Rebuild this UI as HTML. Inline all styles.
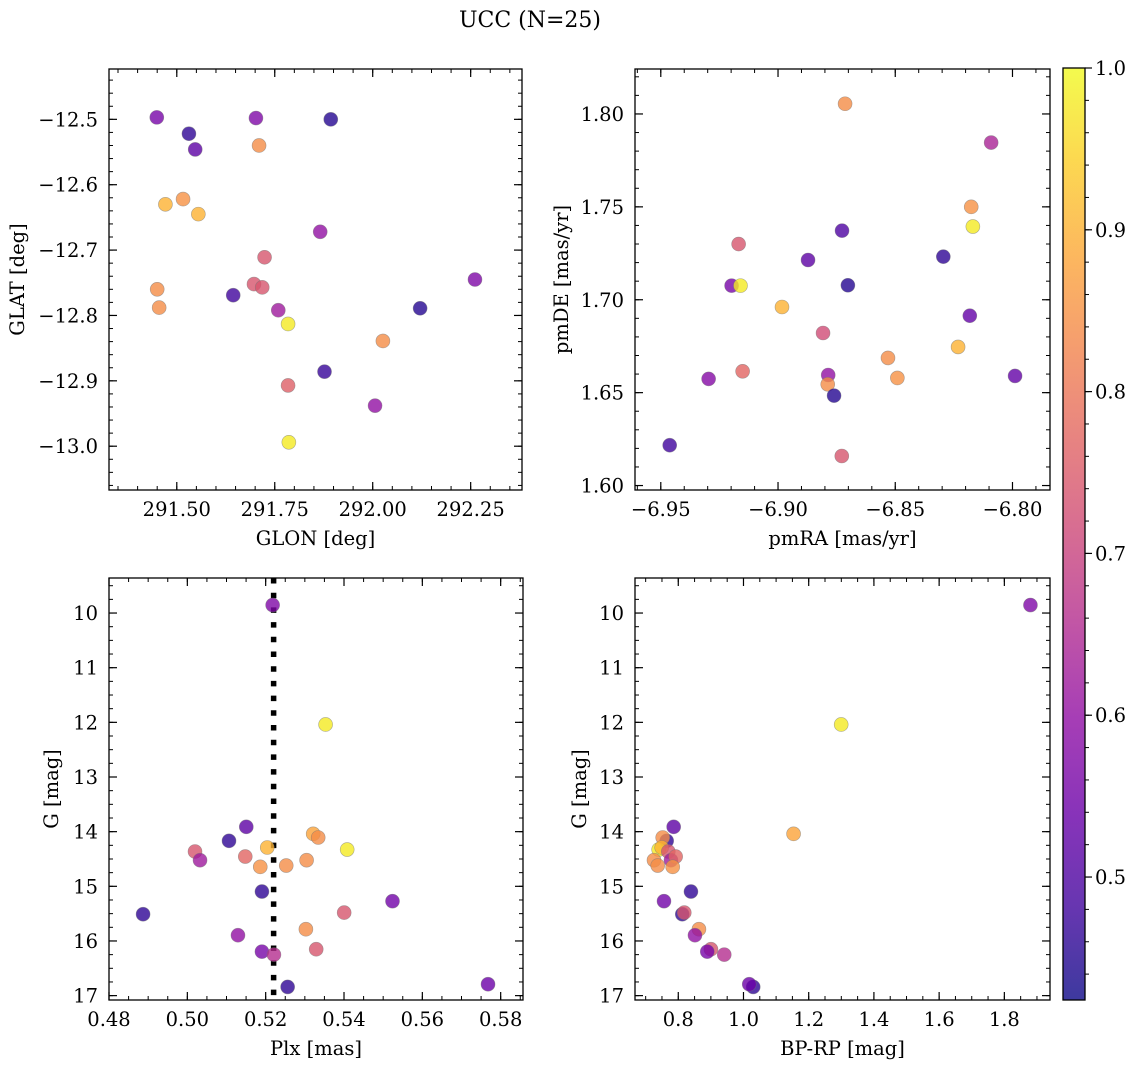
<!DOCTYPE html>
<html><head><meta charset="utf-8"><style>
html,body{margin:0;padding:0;background:#fff}
svg{display:block;font-family:"DejaVu Serif","Liberation Serif",serif}
</style></head><body>
<svg id="fig" width="1136" height="1068" viewBox="0 0 1136 1068" xmlns="http://www.w3.org/2000/svg">
<text x="530" y="27" font-size="22" text-anchor="middle">UCC (N=25)</text>
</svg>
<script>
// ---- data ----
const glon=[291.449,291.531,291.547,291.702,291.893,291.710,291.471,291.516,291.555,291.866,291.724,291.697,291.718,291.450,291.455,291.644,291.759,291.784,292.261,292.121,292.026,291.877,291.784,292.006,291.786];
const glat=[-12.497,-12.522,-12.546,-12.498,-12.5,-12.540,-12.630,-12.622,-12.645,-12.672,-12.711,-12.752,-12.757,-12.760,-12.788,-12.769,-12.792,-12.813,-12.745,-12.789,-12.839,-12.886,-12.907,-12.938,-12.994];
const glColor=[0.56,0.46,0.52,0.57,0.45,0.84,0.9,0.85,0.9,0.6,0.74,0.74,0.74,0.84,0.84,0.48,0.62,0.98,0.57,0.45,0.84,0.47,0.76,0.6,0.98];

const pmra=[-6.8714,-6.8091,-6.8176,-6.8169,-6.8727,-6.9168,-6.8872,-6.8295,-6.9198,-6.9160,-6.8702,-6.8983,-6.8182,-6.8808,-6.8232,-6.8531,-6.9151,-6.9296,-6.8786,-6.8491,-6.7989,-6.8788,-6.8761,-6.9462,-6.8728];
const pmde=[1.8055,1.7846,1.7500,1.7394,1.7372,1.7300,1.7214,1.7232,1.7076,1.7076,1.7078,1.6961,1.6914,1.6821,1.6746,1.6687,1.6615,1.6574,1.6595,1.6579,1.6590,1.6545,1.6484,1.6217,1.6159];
const pmColor=[0.84,0.64,0.85,0.98,0.5,0.74,0.52,0.46,0.56,0.98,0.45,0.9,0.53,0.72,0.9,0.84,0.77,0.58,0.6,0.85,0.53,0.84,0.45,0.48,0.74];

const plx=[0.52178,0.53530,0.51505,0.51064,0.53213,0.53341,0.54081,0.52040,0.50196,0.50324,0.51479,0.51862,0.52525,0.53045,0.51905,0.55238,0.48870,0.54004,0.53027,0.51293,0.53290,0.51905,0.52211,0.52561,0.57677];
const gmag=[9.854,12.039,13.912,14.168,14.040,14.107,14.327,14.290,14.363,14.522,14.455,14.644,14.620,14.522,15.096,15.272,15.510,15.481,15.785,15.895,16.151,16.195,16.250,16.841,16.791];
const plxColor=[0.57,0.98,0.52,0.46,0.88,0.84,0.98,0.9,0.74,0.62,0.77,0.85,0.84,0.84,0.46,0.55,0.46,0.74,0.84,0.6,0.74,0.56,0.66,0.46,0.54];
const plxMedian=[0.52203];

const bprp=[1.880,1.2996,1.1536,0.7859,0.7644,0.7522,0.7399,0.7491,0.7694,0.7776,0.7920,0.7255,0.7369,0.7829,0.8389,0.7562,0.8123,0.8184,0.8634,0.8512,0.9002,0.8889,0.9410,1.0298,1.0176];
const cmdG=[9.854,12.039,14.040,13.912,14.168,14.107,14.327,14.290,14.363,14.522,14.455,14.522,14.620,14.644,15.096,15.272,15.510,15.481,15.785,15.895,16.151,16.195,16.250,16.841,16.791];
const cmdColor=[0.57,0.98,0.88,0.52,0.46,0.84,0.98,0.9,0.74,0.62,0.77,0.84,0.84,0.85,0.46,0.55,0.46,0.74,0.84,0.6,0.74,0.56,0.66,0.46,0.54];

const cbTicks=[0.5,0.6,0.7,0.8,0.9,1.0];
const cbTickLabels=["0.5","0.6","0.7","0.8","0.9","1.0"];

// ---- helpers ----
const NS="http://www.w3.org/2000/svg";
const svg=document.getElementById('fig');
const FS=19.5;
const VMIN=0.424,VMAX=1.0;
const stops=[[13,8,135],[65,4,157],[106,0,168],[143,13,164],[177,42,144],[204,71,120],[225,100,98],[242,132,75],[252,166,54],[252,206,37],[240,249,33]];
function plasma(t){t=Math.max(0,Math.min(1,t));const f=t*10,i=Math.min(9,Math.floor(f)),u=f-i;const a=stops[i],b=stops[i+1];return 'rgb('+a.map((v,k)=>Math.round(v+(b[k]-v)*u)).join(',')+')';}
function cval(v){return plasma((v-VMIN)/(VMAX-VMIN));}
function mk(tag,attrs,parent){const e=document.createElementNS(NS,tag);for(const k in attrs)e.setAttribute(k,attrs[k]);(parent||svg).appendChild(e);return e;}
function fmt(v,d){const s=Math.abs(v).toFixed(d);return (v<-1e-9?'\u2212':'')+s;}

function panel(o){
  const g=mk('g',{});
  
  
  const sx=v=>o.px0+(v-o.x0)/(o.x1-o.x0)*(o.px1-o.px0);
  const sy=v=>o.py0+(v-o.y0)/(o.y1-o.y0)*(o.py1-o.py0);
  const eps=1e-9;
  function ticks(a0,a1,step){const lo=Math.min(a0,a1),hi=Math.max(a0,a1);const r=[];for(let k=Math.ceil(lo/step-eps);k*step<=hi+eps;k++)r.push(+(k*step).toFixed(6));return r;}
  ticks(o.x0,o.x1,o.xminor).forEach(v=>{const x=sx(v);
    const t1=mk('line',{x1:x,x2:x,y1:o.py1,y2:o.py1-4,stroke:'#000','stroke-width':1},g);
    
    const t2=mk('line',{x1:x,x2:x,y1:o.py0,y2:o.py0+4,stroke:'#000','stroke-width':1},g);
    });
  ticks(o.y0,o.y1,o.yminor).forEach(v=>{const y=sy(v);
    const t1=mk('line',{x1:o.px0,x2:o.px0+4,y1:y,y2:y,stroke:'#000','stroke-width':1},g);
    
    const t2=mk('line',{x1:o.px1,x2:o.px1-4,y1:y,y2:y,stroke:'#000','stroke-width':1},g);
    });
  ticks(o.x0,o.x1,o.xmajor).forEach(v=>{const x=sx(v);
    const t1=mk('line',{x1:x,x2:x,y1:o.py1,y2:o.py1-8,stroke:'#000','stroke-width':1.2},g);
    
    const t2=mk('line',{x1:x,x2:x,y1:o.py0,y2:o.py0+8,stroke:'#000','stroke-width':1.2},g);
    
    const tl=mk('text',{x:x,y:o.py1+26,'font-size':FS,'text-anchor':'middle'},g);tl.textContent=fmt(v,o.xd);
    });
  ticks(o.y0,o.y1,o.ymajor).forEach(v=>{const y=sy(v);
    const t1=mk('line',{x1:o.px0,x2:o.px0+8,y1:y,y2:y,stroke:'#000','stroke-width':1.2},g);
    
    const t2=mk('line',{x1:o.px1,x2:o.px1-8,y1:y,y2:y,stroke:'#000','stroke-width':1.2},g);
    
    const tl=mk('text',{x:o.px0-11,y:y+7,'font-size':FS,'text-anchor':'end'},g);tl.textContent=fmt(v,o.yd);
    });
  if(o.vline){o.vline.forEach(v=>{const x=sx(v);
    const l=mk('line',{x1:x,x2:x,y1:o.py0,y2:o.py1,stroke:'#000','stroke-width':5.5,'stroke-dasharray':'5.5,9.2'},g);
    });}
  for(let i=0;i<o.xs.length;i++){
    const c=mk('circle',{cx:sx(o.xs[i]),cy:sy(o.ys[i]),r:7,fill:cval(o.cs[i]),'fill-opacity':0.8,stroke:'#777','stroke-opacity':0.6,'stroke-width':0.6},g);
    
    
  }
  const fr=mk('rect',{x:o.px0,y:o.py0,width:o.px1-o.px0,height:o.py1-o.py0,fill:'none',stroke:'#000','stroke-width':1.3},g);
  
  const xl=mk('text',{x:(o.px0+o.px1)/2,y:o.py1+55,'font-size':FS,'text-anchor':'middle'},g);xl.textContent=o.xlabel;
  
  const yl=mk('text',{x:o.ylx,y:(o.py0+o.py1)/2,'font-size':FS,'text-anchor':'middle',transform:'rotate(-90 '+o.ylx+' '+(o.py0+o.py1)/2+')'},g);yl.textContent=o.ylabel;
  
}

panel({name:'glon-glat-panel',px0:109,px1:522,py0:69,py1:490,x0:291.327,x1:292.381,y0:-12.423,y1:-13.067,
  xmajor:0.25,xminor:0.05,ymajor:0.1,yminor:0.02,xd:2,yd:1,xs:glon,ys:glat,cs:glColor,xlabel:'GLON [deg]',ylabel:'GLAT [deg]',ylx:24});
panel({name:'pm-panel',px0:635,px1:1050,py0:69,py1:490,x0:-6.961,x1:-6.784,y0:1.8242,y1:1.5976,
  xmajor:0.05,xminor:0.01,ymajor:0.05,yminor:0.01,xd:2,yd:2,xs:pmra,ys:pmde,cs:pmColor,xlabel:'pmRA [mas/yr]',ylabel:'pmDE [mas/yr]',ylx:568});
panel({name:'plx-g-panel',px0:109,px1:523,py0:578,py1:1000,x0:0.48,x1:0.5857,y0:9.359,y1:17.08,
  xmajor:0.02,xminor:0.005,ymajor:1,yminor:0.25,xd:2,yd:0,xs:plx,ys:gmag,cs:plxColor,vline:plxMedian,xlabel:'Plx [mas]',ylabel:'G [mag]',ylx:58});
panel({name:'cmd-panel',px0:635,px1:1050,py0:578,py1:1000,x0:0.6673,x1:1.940,y0:9.359,y1:17.08,
  xmajor:0.2,xminor:0.05,ymajor:1,yminor:0.25,xd:1,yd:0,xs:bprp,ys:cmdG,cs:cmdColor,xlabel:'BP-RP [mag]',ylabel:'G [mag]',ylx:586});

// ---- colorbar ----
(function(){
  const x0=1063,x1=1085,y0=68,y1=1000;
  const g=mk('g',{});
  
  
  const defs=mk('defs',{},g);
  const lg=mk('linearGradient',{id:'cbg',x1:0,y1:1,x2:0,y2:0},defs);
  for(let k=0;k<=20;k++){mk('stop',{offset:k/20,'stop-color':plasma(k/20),'stop-opacity':0.8},lg);}
  const r=mk('rect',{x:x0,y:y0,width:x1-x0,height:y1-y0,fill:'url(#cbg)',stroke:'#000','stroke-width':1.3},g);
  
  const cy=v=>y1-(v-VMIN)/(VMAX-VMIN)*(y1-y0);
  for(let k=Math.ceil(VMIN/0.02);k*0.02<=VMAX+1e-9;k++){const y=cy(k*0.02);
    const t=mk('line',{x1:x1,x2:x1+4,y1:y,y2:y,stroke:'#000','stroke-width':1},g);
    }
  cbTicks.forEach((v,i)=>{const y=cy(v);
    const t=mk('line',{x1:x1,x2:x1+7,y1:y,y2:y,stroke:'#000','stroke-width':1.2},g);
    
    const tl=mk('text',{x:x1+10,y:y+7,'font-size':FS},g);tl.textContent=cbTickLabels[i];
    });
})();
</script>
</body></html>
